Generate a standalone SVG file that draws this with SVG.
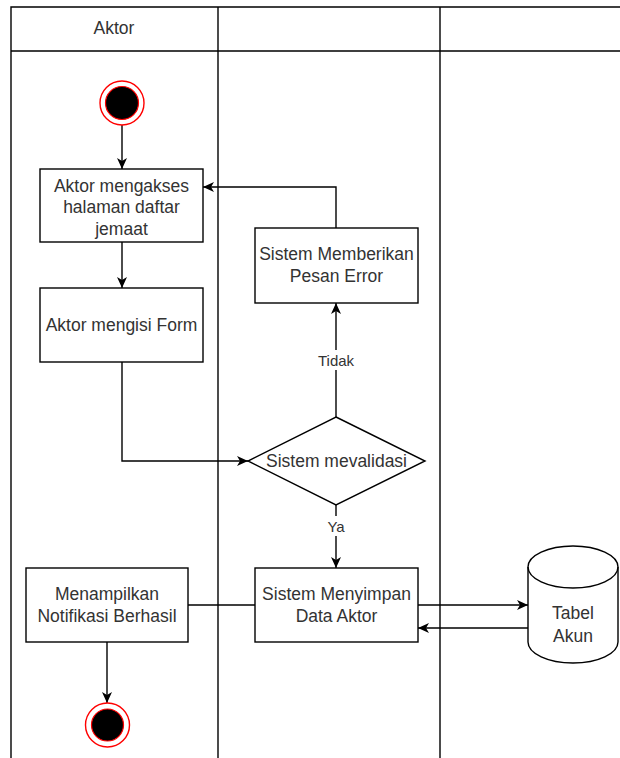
<svg xmlns="http://www.w3.org/2000/svg" width="620" height="758" viewBox="0 0 620 758">
  <style>
    .lane { fill: none; stroke: #000; stroke-width: 1.4; }
    .box { fill: #fff; stroke: #000; stroke-width: 1.4; }
    .edge { fill: none; stroke: #000; stroke-width: 1.4; }
    .t { font-family: "Liberation Sans", Arial, sans-serif; font-size: 17.5px; fill: #333; text-anchor: middle; }
    .lbl { font-family: "Liberation Sans", Arial, sans-serif; font-size: 15px; fill: #333; text-anchor: middle; }
  </style>
  <defs>
    <marker id="arrow" viewBox="0 0 12 12" refX="11" refY="6" markerWidth="12" markerHeight="12" markerUnits="userSpaceOnUse" orient="auto">
      <path d="M0,1 L11,6 L0,11 L3,6 Z" fill="#000"/>
    </marker>
  </defs>
  <rect width="620" height="758" fill="#fff"/>

  <!-- swimlanes -->
  <g id="lanes">
    <path class="lane" d="M11,758 V7 H620 M11,51 H620 M218,7 V758 M440,7 V758"/>
    <text class="t" x="114" y="34">Aktor</text>
  </g>

  <!-- connectors -->
  <g id="edges">
    <path class="edge" d="M122,125 V169" marker-end="url(#arrow)"/>
    <path class="edge" d="M122,242 V288" marker-end="url(#arrow)"/>
    <path class="edge" d="M122,362 V461 H248" marker-end="url(#arrow)"/>
    <path class="edge" d="M336,417 V303" marker-end="url(#arrow)"/>
    <path class="edge" d="M336,228 V187 H203" marker-end="url(#arrow)"/>
    <path class="edge" d="M336,505 V568" marker-end="url(#arrow)"/>
    <path class="edge" d="M255,605 H188"/>
    <path class="edge" d="M418,605 H528" marker-end="url(#arrow)"/>
    <path class="edge" d="M528,628 H418" marker-end="url(#arrow)"/>
    <path class="edge" d="M107,642 V703" marker-end="url(#arrow)"/>
    <rect x="314" y="350" width="44" height="20" fill="#fff"/>
    <text class="lbl" x="336" y="366">Tidak</text>
    <rect x="324" y="516" width="24" height="20" fill="#fff"/>
    <text class="lbl" x="336" y="532">Ya</text>
  </g>

  <g id="start">
    <circle cx="122" cy="103" r="22" fill="#fff" stroke="#f00" stroke-width="1.4"/>
    <circle cx="122" cy="103" r="16.5" fill="#000" stroke="#f00" stroke-width="1.2"/>
  </g>

  <g id="akses">
    <rect class="box" x="40" y="169" width="163" height="73"/>
    <text class="t" x="121.5" y="192">Aktor mengakses</text>
    <text class="t" x="121.5" y="213">halaman daftar</text>
    <text class="t" x="121.5" y="235">jemaat</text>
  </g>

  <g id="isi-form">
    <rect class="box" x="40" y="288" width="163" height="74"/>
    <text class="t" x="121.5" y="331">Aktor mengisi Form</text>
  </g>

  <g id="error">
    <rect class="box" x="255" y="228" width="163" height="75"/>
    <text class="t" x="336.5" y="260">Sistem Memberikan</text>
    <text class="t" x="336.5" y="282">Pesan Error</text>
  </g>

  <g id="validasi">
    <path class="box" d="M336,417 L425,461 L336,505 L248,461 Z"/>
    <text class="t" x="336.5" y="467">Sistem mevalidasi</text>
  </g>

  <g id="simpan">
    <rect class="box" x="255" y="568" width="163" height="74"/>
    <text class="t" x="336.5" y="600">Sistem Menyimpan</text>
    <text class="t" x="336.5" y="622">Data Aktor</text>
  </g>

  <g id="notifikasi">
    <rect class="box" x="26" y="568" width="162" height="74"/>
    <text class="t" x="107" y="600">Menampilkan</text>
    <text class="t" x="107" y="622">Notifikasi Berhasil</text>
  </g>

  <g id="tabel-akun">
    <path class="box" d="M528,567 A45,21 0 0 1 618,567 V642 A45,21 0 0 1 528,642 Z"/>
    <path class="edge" d="M528,567 A45,21 0 0 0 618,567"/>
    <text class="t" x="573" y="619">Tabel</text>
    <text class="t" x="573" y="642">Akun</text>
  </g>

  <g id="end">
    <circle cx="107.5" cy="725" r="22" fill="#fff" stroke="#f00" stroke-width="1.4"/>
    <circle cx="107.5" cy="725" r="16" fill="#000" stroke="#f00" stroke-width="1.2"/>
  </g>
</svg>
